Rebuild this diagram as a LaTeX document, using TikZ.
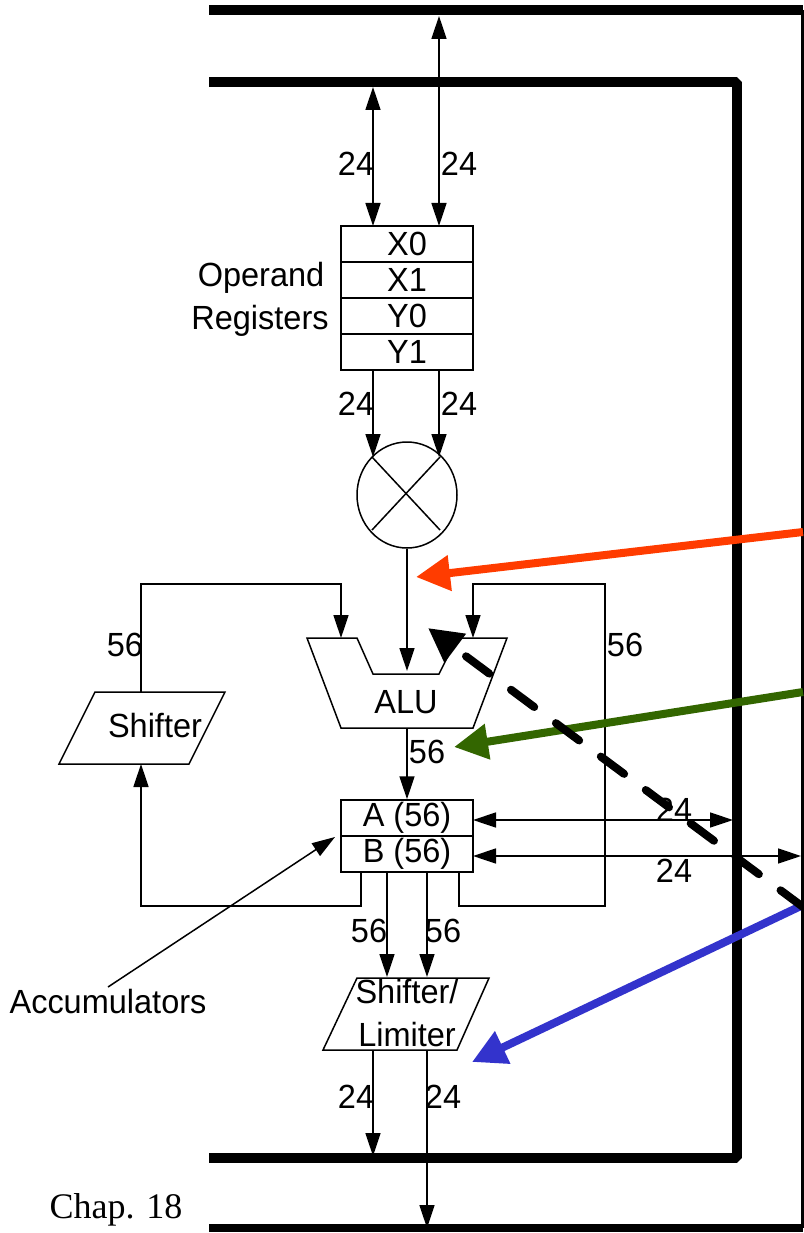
\documentclass[tikz,border=0pt]{standalone}
\usepackage{fontspec}
\setmainfont[FakeStretch=0.97]{Liberation Sans}
\newfontfamily\chapfont{Liberation Serif}
\usetikzlibrary{arrows.meta,shapes.geometric}
\definecolor{redarrow}{RGB}{255,60,0}
\definecolor{greenarrow}{RGB}{51,102,0}
\definecolor{bluearrow}{RGB}{51,51,204}
\tikzset{
  wire/.style={line width=1.5pt,-{Triangle[length=23pt,width=15pt]}},
  wirebi/.style={line width=1.5pt,{Triangle[length=23pt,width=15pt]}-{Triangle[length=23pt,width=15pt]}},
  plain/.style={line width=1.5pt,line join=miter},
  bus/.style={line width=10pt,line join=bevel},
  pointer/.style={line width=8pt,-{Triangle[length=34pt,width=34pt]}},
  reg/.style={draw,line width=1.5pt,minimum width=132pt,minimum height=36pt,inner sep=0pt,font=\fontsize{33.5}{33.5}\selectfont},
  lab/.style={inner sep=0pt,font=\fontsize{33.5}{33.5}\selectfont},
}
\begin{document}
\begin{tikzpicture}[x=1pt,y=-1pt]
  \useasboundingbox (0,0) rectangle (803,1233);
  % buses
  \coordinate (outtop) at (209,10);
  \coordinate (outtopr) at (803,10);
  \coordinate (outright) at (802,10);
  \coordinate (outrightb) at (802,1228);
  \coordinate (outbotr) at (803,1228);
  \coordinate (outbot) at (209,1228);
  \coordinate (intop) at (209,82);
  \coordinate (intopr) at (737,82);
  \coordinate (inbotr) at (737,1158);
  \coordinate (inbot) at (209,1158);
  \draw[bus] (outtop) -- (outtopr);
  \draw[line width=3pt] (outright) -- (outrightb);
  \draw[line width=8pt] (outbot) -- (outbotr);
  \draw[bus] (intop) -- (intopr) -- (inbotr) -- (inbot);
  % registers
  \foreach \name/\txt/\y in {xzero/X0/244,xone/X1/280,yzero/Y0/316,yone/Y1/352} {
    \node[reg] (\name) at (407,\y) {\txt};
  }
  \foreach \name/\txt/\y in {acca/A (56)/818,accb/B (56)/854} {
    \node[reg] (\name) at (407,\y) {\txt};
  }
  \node[lab] (opnd) at (261,278) {Operand};
  \node[lab] (regs) at (260,321) {Registers};
  \node[lab] (accs) at (108,1002) {Accumulators};
  \node[inner sep=0pt,font=\chapfont\fontsize{36}{36}\selectfont] (chap) at (116,1210) {Chap. 18};
  % multiplier
  \node[draw,ellipse,line width=1.5pt,minimum width=100pt,minimum height=106pt,inner sep=0pt] (mult) at (407,495) {};
  \draw[line width=1.5pt] (372,457) -- (440,530);
  \draw[line width=1.5pt] (440,457) -- (372,530);
  % alu
  \draw[plain] (307,638) -- (357,638) -- (373,674) -- (439,674) -- (457,638) -- (507,638) -- (473,728) -- (341,728) -- cycle;
  \node[lab] (alu) at (406,702) {ALU};
  \coordinate (alul) at (341,638);
  \coordinate (alum) at (407,671);
  \coordinate (alur) at (473,638);
  \coordinate (alub) at (407,728);
  % shifter
  \draw[plain] (59,764) -- (95,692) -- (225,692) -- (189,764) -- cycle;
  \node[lab] (shift) at (155,726) {Shifter};
  \coordinate (shiftt) at (141,692);
  \coordinate (shiftb) at (141,764);
  % shifter/limiter
  \draw[plain] (323,1050) -- (357,978) -- (489,978) -- (457,1050) -- cycle;
  \node[lab] (slone) at (407,992) {Shifter/};
  \node[lab] (sltwo) at (407,1035) {Limiter};
  % wires
  \draw[wirebi] (439,16) -- (439,226);
  \draw[wirebi] (373,87) -- (373,226);
  \draw[wire] (373,370) -- (373,457);
  \draw[wire] (439,370) -- (439,457);
  \draw[wire] (mult.south) -- (alum);
  \draw[wire] (alub) -- (acca.north);
  \draw[wire] (shiftt) -- (141,584) -- (341,584) -- (alul);
  \draw[wire] (459,872) -- (459,906) -- (605,906) -- (605,584) -- (473,584) -- (alur);
  \draw[wire] (361,872) -- (361,906) -- (141,906) -- (shiftb);
  \coordinate (aout) at (473,820);
  \coordinate (bout) at (473,856);
  \draw[wirebi] (aout) -- (733,820);
  \draw[wirebi] (bout) -- (801,856);
  \draw[wire] (387,872) -- (387,977);
  \draw[wire] (427,872) -- (427,977);
  \draw[wire] (373,1050) -- (373,1156);
  \draw[wire] (427,1050) -- (427,1228);
  \draw[wire] (108,987) -- (335,837);
  % widths
  \foreach \txt/\x/\y in {24/356/164,24/459/164,24/356/404,24/459/404,56/125/645,56/625/645,56/427/752,24/674/810,24/674/871,56/369/931,56/443/931,24/356/1097,24/443/1097} {
    \node[lab] at (\x,\y) {\txt};
  }
  % pointers
  \draw[pointer,redarrow] (803,532) -- (416,577);
  \draw[pointer,greenarrow] (803,692) -- (454,747);
  \draw[pointer,bluearrow] (803,905) -- (472,1062);
  \draw[pointer,line cap=round,dash pattern=on 29pt off 27pt,dash phase=1pt] (803,907) -- (428,628);
\end{tikzpicture}
\end{document}
